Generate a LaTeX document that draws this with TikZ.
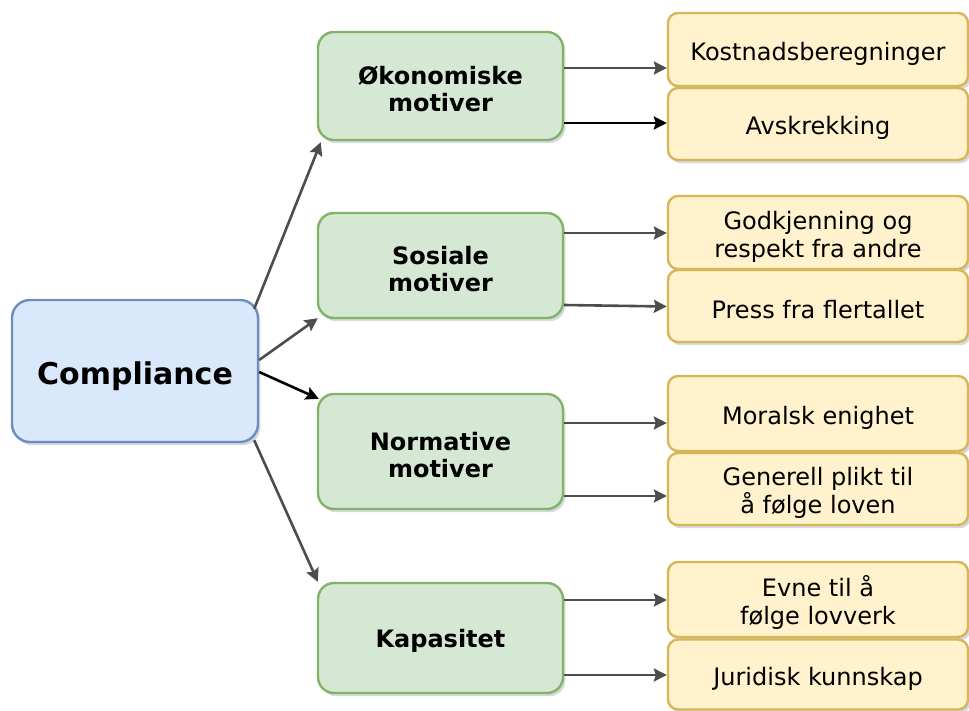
\documentclass[tikz,border=0pt]{standalone}
\usepackage{fontspec}
\setmainfont{DejaVu Sans}
\usetikzlibrary{arrows.meta,shadows,calc}

\definecolor{rootFill}{HTML}{DAE8FC}
\definecolor{rootLine}{HTML}{6C8EBF}
\definecolor{motFill}{HTML}{D5E8D4}
\definecolor{motLine}{HTML}{82B366}
\definecolor{leafFill}{HTML}{FFF2CC}
\definecolor{leafLine}{HTML}{D6B656}
\definecolor{arrGray}{HTML}{4D4D4D}
\definecolor{shadowTone}{HTML}{8A8FA8}

\tikzset{
  boxshadow/.style={drop shadow={fill=shadowTone, opacity=0.35, shadow xshift=1.2pt, shadow yshift=-1.6pt}},
  % a tall invisible strut beside the text sets it a little lower in its box
  lowtext/.style={execute at begin node={\rule{0pt}{#1}}},
  rootbox/.style={draw=rootLine, fill=rootFill, line width=1.2pt, rounded corners=9pt,
    boxshadow, minimum width=123pt, minimum height=71pt, inner sep=0pt,
    font=\fontsize{15}{18}\selectfont\bfseries, lowtext=16.4pt},
  motbox/.style={draw=motLine, fill=motFill, line width=1.2pt, rounded corners=8pt,
    boxshadow, minimum width=122.5pt, inner sep=0pt, align=center,
    font=\fontsize{12}{13.5}\selectfont\bfseries, lowtext=12.4pt},
  motbox2/.style={motbox, lowtext=26.1pt},
  leafbox/.style={draw=leafLine, fill=leafFill, line width=1.2pt, rounded corners=5pt,
    boxshadow, minimum width=150pt, inner sep=0pt, align=center,
    font=\fontsize{12}{14}\selectfont, lowtext=13.1pt},
  leafbox2/.style={leafbox, lowtext=27.1pt},
  arr/.style={draw=arrGray, line width=1.3pt, -{Stealth[length=6.5pt,width=6.5pt,inset=1pt]}},
  arrdark/.style={arr, draw=black}
}

\begin{document}
\begin{tikzpicture}[x=0.5pt, y=-0.5pt]
\useasboundingbox (0,0) rectangle (969,711);

% root
\node[rootbox] (comp) at (135,371) {Compliance};

% motive groups
\node[motbox2, minimum height=54pt]   (ok)   at (440.5,86)    {Økonomiske\\motiver};
\node[motbox2, minimum height=52.5pt] (sos)  at (440.5,265.5) {Sosiale\\motiver};
\node[motbox2, minimum height=57.5pt] (norm) at (440.5,451.5) {Normative\\motiver};
\node[motbox,  minimum height=55pt]   (kap)  at (440.5,638)   {Kapasitet};

% leaves
\node[leafbox,  minimum height=36.5pt] (kost)  at (818,49.5)  {Kostnadsberegninger};
\node[leafbox,  minimum height=36pt]   (avsk)  at (818,124)   {Avskrekking};
\node[leafbox2, minimum height=36.5pt] (godk)  at (818,232.5) {Godkjenning og\\respekt fra andre};
\node[leafbox,  minimum height=36pt]   (press) at (818,306)   {Press fra flertallet};
\node[leafbox,  minimum height=37.5pt] (moral) at (818,413.5) {Moralsk enighet};
\node[leafbox2, minimum height=36pt]   (gen)   at (818,489)   {Generell plikt til\\ å følge loven};
\node[leafbox2, minimum height=37.5pt] (evne)  at (818,599.5) {Evne til å\\følge lovverk};
\node[leafbox,  minimum height=35pt]   (jur)   at (818,674.5) {Juridisk kunnskap};

% root to motive groups
\draw[arr]     ($(comp.north east)+(-5,10)$) -- ($(ok.south west)+(4,1)$);
\draw[arr]     ($(comp.east)+(0,-11)$)       -- ($(sos.south west)+(1,-1)$);
\draw[arrdark] ($(comp.east)+(0,1)$)         -- ($(norm.north west)+(2,6)$);
\draw[arr]     ($(comp.south east)+(-5,-3)$) -- ($(kap.north west)+(1,0)$);

% motive groups to leaves
\draw[arr]     ($(ok.east)+(0,-18)$)     coordinate (a1) -- (a1 -| kost.west);
\draw[arrdark] ($(ok.east)+(0,37)$)      coordinate (a2) -- (a2 -| avsk.west);
\draw[arr]     ($(sos.east)+(0,-32.5)$)  coordinate (a3) -- (a3 -| godk.west);
\draw[arr]     ($(sos.east)+(0,39.5)$)   coordinate (a4) -- ($(a4 -| press.west)+(0,1.5)$);
\draw[arr]     ($(norm.east)+(0,-28.5)$) coordinate (a5) -- (a5 -| moral.west);
\draw[arr]     ($(norm.east)+(0,44.5)$)  coordinate (a6) -- (a6 -| gen.west);
\draw[arr]     ($(kap.east)+(0,-38)$)    coordinate (a7) -- (a7 -| evne.west);
\draw[arr]     ($(kap.east)+(0,37)$)     coordinate (a8) -- (a8 -| jur.west);
\end{tikzpicture}
\end{document}
